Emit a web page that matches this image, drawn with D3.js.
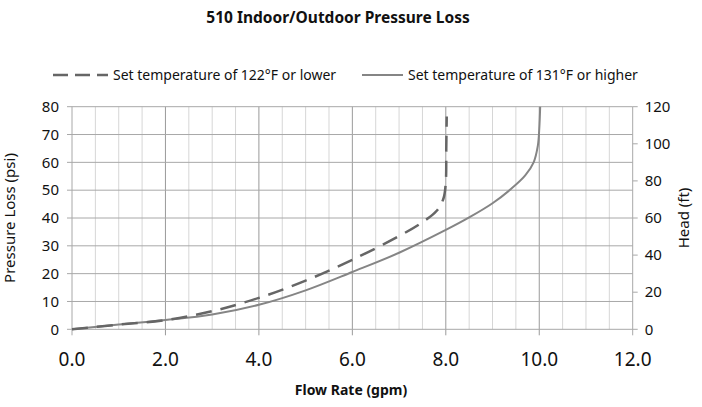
<!DOCTYPE html>
<meta charset="utf-8" />
<script src="https://d3js.org/d3.v7.min.js"></script>
<body style="margin:0;background:#fff">
  <div id="my_dataviz"></div>
  <script>
    // flow rate (gpm) vs pressure loss (psi)
    const flowLow = [0, 1.0, 2.0, 3.0, 4.0, 5.0, 6.0, 7.0, 7.5, 7.8, 7.95, 8.0, 8.01, 8.02];
    const pressLow = [0, 1.7, 3.3, 6.5, 11.3, 17.5, 25.0, 33.5, 38.5, 42.5, 47.0, 53.0, 65.0, 76.5];
    const flowHigh = [0, 1.0, 2.0, 3.0, 4.0, 5.0, 6.0, 7.0, 8.0, 8.5, 9.0, 9.4, 9.7, 9.88, 9.97, 10.0, 10.02];
    const pressHigh = [0, 1.7, 3.3, 5.3, 8.8, 14.0, 20.6, 27.5, 35.7, 40.2, 45.3, 50.5, 55.3, 60.0, 66.0, 72.0, 80];
    const xTicks = [0, 2, 4, 6, 8, 10, 12];
    const yTicks = [0, 10, 20, 30, 40, 50, 60, 70, 80];
    const headTicks = [0, 20, 40, 60, 80, 100, 120];
    const seriesNames = ["Set temperature of 122°F or lower", "Set temperature of 131°F or higher"];

    const font = "'Noto Sans', 'Open Sans', sans-serif";
    const W = 702, H = 407;
    const margin = { top: 106.7, right: 69.3, bottom: 77.7, left: 72 },
      width = W - margin.left - margin.right,
      height = H - margin.top - margin.bottom;

    const root = d3.select("#my_dataviz").append("svg")
      .attr("width", W).attr("height", H)
      .style("font-family", font);
    const svg = root.append("g")
      .attr("transform", "translate(" + margin.left + "," + margin.top + ")");

    const x = d3.scaleLinear().domain([0, 12]).range([0, width]);
    const y = d3.scaleLinear().domain([0, 80]).range([height, 0]);
    const y2 = d3.scaleLinear().domain([0, 120]).range([height, 0]);

    // minor vertical grid every 0.5
    svg.append("g").selectAll("line")
      .data(d3.range(0.5, 12, 0.5).filter(d => d % 2 !== 0))
      .join("line")
      .attr("x1", d => x(d)).attr("x2", d => x(d))
      .attr("y1", 0).attr("y2", height)
      .attr("stroke", "#d6d6d6").attr("stroke-width", 1);
    // major vertical grid
    svg.append("g").selectAll("line")
      .data(xTicks.slice(1, -1))
      .join("line")
      .attr("x1", d => x(d)).attr("x2", d => x(d))
      .attr("y1", 0).attr("y2", height + 6)
      .attr("stroke", "#9a9a9a").attr("stroke-width", 1);
    // horizontal grid
    svg.append("g").selectAll("line")
      .data(yTicks)
      .join("line")
      .attr("x1", -5).attr("x2", width)
      .attr("y1", d => y(d)).attr("y2", d => y(d))
      .attr("stroke", "#a8a8a8").attr("stroke-width", 1);
    // left / right axis lines
    svg.append("line").attr("x1", 0).attr("x2", 0).attr("y1", 0).attr("y2", height + 6)
      .attr("stroke", "#a8a8a8");
    svg.append("line").attr("x1", width).attr("x2", width).attr("y1", 0).attr("y2", height + 6)
      .attr("stroke", "#a8a8a8");
    svg.append("g").selectAll("line")
      .data(headTicks)
      .join("line")
      .attr("x1", width).attr("x2", width + 5)
      .attr("y1", d => y2(d)).attr("y2", d => y2(d))
      .attr("stroke", "#a8a8a8");

    // tick labels
    svg.append("g").selectAll("text")
      .data(yTicks).join("text")
      .attr("x", -13).attr("y", d => y(d)).attr("dy", "0.35em")
      .attr("text-anchor", "end").style("font-size", "15px").attr("fill", "#111")
      .text(d => d);
    svg.append("g").selectAll("text")
      .data(headTicks).join("text")
      .attr("x", width + 12).attr("y", d => y2(d)).attr("dy", "0.35em")
      .attr("text-anchor", "start").style("font-size", "15px").attr("fill", "#111")
      .text(d => d);
    svg.append("g").selectAll("text")
      .data(xTicks).join("text")
      .attr("x", d => x(d)).attr("y", height + 37)
      .attr("text-anchor", "middle").style("font-size", "19px").attr("fill", "#111")
      .text(d => d3.format(".1f")(d));

    // lines
    const line = d3.line().curve(d3.curveCatmullRom.alpha(0.5))
      .x(d => x(d[0])).y(d => y(d[1]));
    svg.append("path")
      .datum(d3.zip(flowHigh, pressHigh))
      .attr("d", line).attr("fill", "none")
      .attr("stroke", "#858585").attr("stroke-width", 2);
    svg.append("path")
      .datum(d3.zip(flowLow, pressLow))
      .attr("d", line).attr("fill", "none")
      .attr("stroke", "#666").attr("stroke-width", 2.5)
      .attr("stroke-dasharray", "16,9");

    // axis titles
    svg.append("text")
      .attr("transform", "translate(" + (-57) + "," + height / 2 + ")rotate(-90)")
      .attr("text-anchor", "middle").style("font-size", "15px").attr("fill", "#111")
      .text("Pressure Loss (psi)");
    svg.append("text")
      .attr("transform", "translate(" + (width + 56) + "," + height / 2 + ")rotate(-90)")
      .attr("text-anchor", "middle").style("font-size", "15px").attr("fill", "#111")
      .text("Head (ft)");
    root.append("text")
      .attr("x", 351).attr("y", 395)
      .attr("text-anchor", "middle").style("font-size", "14px").style("font-weight", "bold")
      .attr("fill", "#111")
      .text("Flow Rate (gpm)");

    // title
    root.append("text")
      .attr("x", 338).attr("y", 23)
      .attr("text-anchor", "middle").style("font-size", "15.5px").style("font-weight", "bold")
      .attr("fill", "#111")
      .text("510 Indoor/Outdoor Pressure Loss");

    // legend
    const leg = root.append("g").attr("transform", "translate(0,75)");
    leg.append("line").attr("x1", 53).attr("x2", 108).attr("y1", 0).attr("y2", 0)
      .attr("stroke", "#666").attr("stroke-width", 2.5).attr("stroke-dasharray", "15,7");
    leg.append("text").attr("x", 113).attr("y", 0).attr("dy", "0.35em")
      .style("font-size", "14px").attr("fill", "#111").text(seriesNames[0]);
    leg.append("line").attr("x1", 362).attr("x2", 403).attr("y1", 0).attr("y2", 0)
      .attr("stroke", "#858585").attr("stroke-width", 2);
    leg.append("text").attr("x", 408).attr("y", 0).attr("dy", "0.35em")
      .style("font-size", "14px").attr("fill", "#111").text(seriesNames[1]);
  </script>
</body>
